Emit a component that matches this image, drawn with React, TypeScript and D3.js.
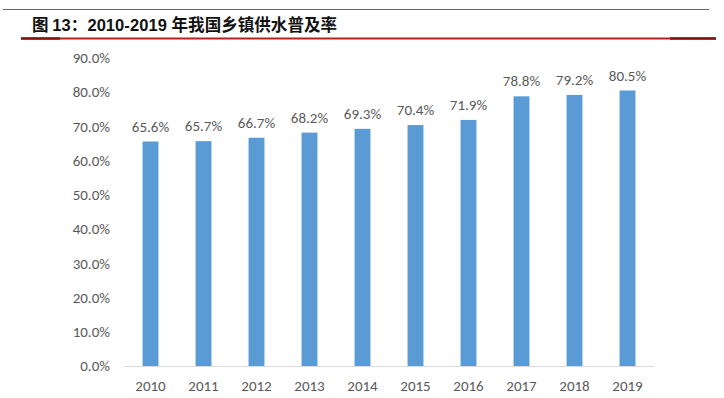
import React from "react";
import * as d3 from "d3";

const years = ["2010", "2011", "2012", "2013", "2014", "2015", "2016", "2017", "2018", "2019"];
const rates = [65.6, 65.7, 66.7, 68.2, 69.3, 70.4, 71.9, 78.8, 79.2, 80.5];
const yTicks = [0, 10, 20, 30, 40, 50, 60, 70, 80, 90];

export default function App() {
    const width = 724;
    const height = 398;
    const left = 124;
    const right = 654;
    const top = 58;
    const bottom = 366;

    const xScale = d3.scaleBand().domain(years).range([left, right]).paddingInner(0.7).paddingOuter(0.35);
    const yScale = d3.scaleLinear().domain([0, 90]).range([bottom, top]);
    const font = "Carlito, 'Liberation Sans', Arial, sans-serif";
    const cjk = "'Noto Sans CJK SC', sans-serif";
    const latin = "'Liberation Sans', Arial, sans-serif";

    return (
        <svg width={width} height={height} style={{position: "absolute", left: 0, top: 0, background: "white"}}>
            <line x1={3} x2={709} y1={9.5} y2={9.5} stroke="#666" strokeWidth={1} />
            <text x={32} y={31} fontSize={16.5} fill="#111" fontWeight="bold" textLength={305} lengthAdjust="spacing">
                <tspan fontFamily={cjk}>图 </tspan>
                <tspan fontFamily={latin}>13</tspan>
                <tspan fontFamily={cjk}>：</tspan>
                <tspan fontFamily={latin}>2010-2019 </tspan>
                <tspan fontFamily={cjk}>年我国乡镇供水普及率</tspan>
            </text>
            <line x1={21} x2={716} y1={38.5} y2={38.5} stroke="#b22222" strokeWidth={2} />
            <line x1={21} x2={60} y1={38.5} y2={38.5} stroke="#8b1010" strokeWidth={2.5} />
            <line x1={670} x2={716} y1={38.5} y2={38.5} stroke="#8b1010" strokeWidth={2.5} />

            {yTicks.map(t => (
                <text key={t} x={110} y={yScale(t)} dy="0.35em" textAnchor="end" fontFamily={font} fontSize={15} fill="#595959">
                    {t.toFixed(1)}%
                </text>
            ))}

            {years.map((y, i) => (
                <g key={y}>
                    <rect x={xScale(y)} y={yScale(rates[i])} width={xScale.bandwidth()} height={bottom - yScale(rates[i])} fill="#5b9bd5" />
                    <text x={xScale(y)! + xScale.bandwidth() / 2} y={yScale(rates[i]) - 10} textAnchor="middle" fontFamily={font} fontSize={15} fill="#595959">
                        {rates[i].toFixed(1)}%
                    </text>
                    <text x={xScale(y)! + xScale.bandwidth() / 2} y={391} textAnchor="middle" fontFamily={font} fontSize={15} fill="#595959">
                        {y}
                    </text>
                </g>
            ))}

            <line x1={left} x2={right} y1={bottom + 0.5} y2={bottom + 0.5} stroke="#d9d9d9" strokeWidth={1} />
        </svg>
    );
}
